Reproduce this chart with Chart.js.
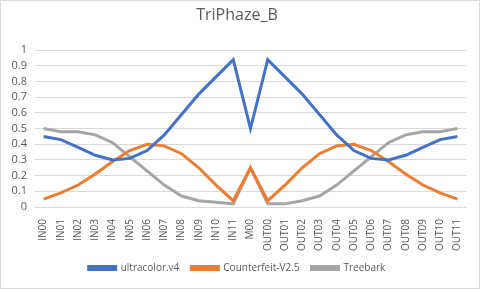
<!DOCTYPE html>
<html>
<head>
<meta charset="utf-8">
<script src="https://cdn.jsdelivr.net/npm/chart.js@4"></script>
<style>
  html, body { margin: 0; padding: 0; background: #fff; }
  #wrap { width: 480px; height: 289px; position: relative; }
</style>
</head>
<body>
<div id="wrap"><canvas id="chart"></canvas></div>
<script>
// categories and series
const categories = ['IN00', 'IN01', 'IN02', 'IN03', 'IN04', 'IN05', 'IN06', 'IN07', 'IN08', 'IN09', 'IN10', 'IN11',
    'M00',
    'OUT00', 'OUT01', 'OUT02', 'OUT03', 'OUT04', 'OUT05', 'OUT06', 'OUT07', 'OUT08', 'OUT09', 'OUT10', 'OUT11'];

const ultracolor = [0.45, 0.43, 0.38, 0.33, 0.30, 0.31, 0.36, 0.46, 0.59, 0.72, 0.83, 0.94,
    0.50,
    0.94, 0.83, 0.72, 0.59, 0.46, 0.36, 0.31, 0.30, 0.33, 0.38, 0.43, 0.45];

const counterfeit = [0.05, 0.09, 0.14, 0.21, 0.29, 0.36, 0.40, 0.39, 0.34, 0.25, 0.14, 0.04,
    0.25,
    0.04, 0.14, 0.25, 0.34, 0.39, 0.40, 0.36, 0.29, 0.21, 0.14, 0.09, 0.05];

const treebark = [0.50, 0.48, 0.48, 0.46, 0.41, 0.32, 0.23, 0.14, 0.07, 0.04, 0.03, 0.02,
    0.25,
    0.02, 0.02, 0.04, 0.07, 0.14, 0.23, 0.32, 0.41, 0.46, 0.48, 0.48, 0.50];

const seriesNames = ['ultracolor.v4', 'Counterfeit-V2.5', 'Treebark'];
const seriesColors = ['#4472c4', '#ed7d31', '#a5a5a5'];
const chartTitle = 'TriPhaze_B';

const textColor = '#595959';
const gridColor = '#d9d9d9';
const fontFamily = "'Open Sans', 'Liberation Sans', sans-serif";

// thin frame round the whole picture, like the Excel chart area
const framePlugin = {
    id: 'frame',
    afterDraw(chart) {
        const ctx = chart.ctx;
        ctx.save();
        ctx.strokeStyle = gridColor;
        ctx.lineWidth = 1;
        ctx.strokeRect(0.5, 0.5, chart.width - 1, chart.height - 1);
        ctx.restore();
    }
};

function makeDataset(name, values, color) {
    return {
        label: name,
        data: values,
        borderColor: color,
        backgroundColor: color,
        borderWidth: 3,
        pointRadius: 0,
        tension: 0,
        fill: false
    };
}

const ctx = document.getElementById('chart').getContext('2d');
const chart = new Chart(ctx, {
    type: 'line',
    data: {
        labels: categories,
        datasets: [
            makeDataset(seriesNames[0], ultracolor, seriesColors[0]),
            makeDataset(seriesNames[1], counterfeit, seriesColors[1]),
            makeDataset(seriesNames[2], treebark, seriesColors[2])
        ]
    },
    options: {
        responsive: true,
        maintainAspectRatio: false,
        animation: false,
        layout: { padding: { left: 8, right: 14, top: 0, bottom: 6 } },
        plugins: {
            title: {
                display: true,
                text: chartTitle,
                color: textColor,
                font: { family: fontFamily, size: 16, weight: 'normal' },
                padding: { top: 6, bottom: 25 }
            },
            legend: {
                position: 'bottom',
                labels: {
                    color: textColor,
                    font: { family: fontFamily, size: 10 },
                    boxWidth: 27,
                    boxHeight: 3,
                    padding: 12
                }
            },
            tooltip: { enabled: false }
        },
        scales: {
            x: {
                offset: true,
                grid: { display: false },
                border: { display: true, color: gridColor, width: 1 },
                ticks: {
                    color: textColor,
                    font: { family: fontFamily, size: 10 },
                    minRotation: 90,
                    maxRotation: 90,
                    autoSkip: false,
                    padding: 4
                },
                afterFit(scale) { scale.height = 44; }
            },
            y: {
                min: 0,
                max: 1,
                grid: { color: gridColor, drawTicks: false },
                border: { display: false },
                ticks: {
                    stepSize: 0.1,
                    autoSkip: false,
                    color: textColor,
                    font: { family: fontFamily, size: 11 },
                    padding: 8,
                    callback: (v) => String(Number(v.toFixed(1)))
                },
                afterFit(scale) { scale.width = 27; }
            }
        }
    },
    plugins: [framePlugin]
});
</script>
</body>
</html>
